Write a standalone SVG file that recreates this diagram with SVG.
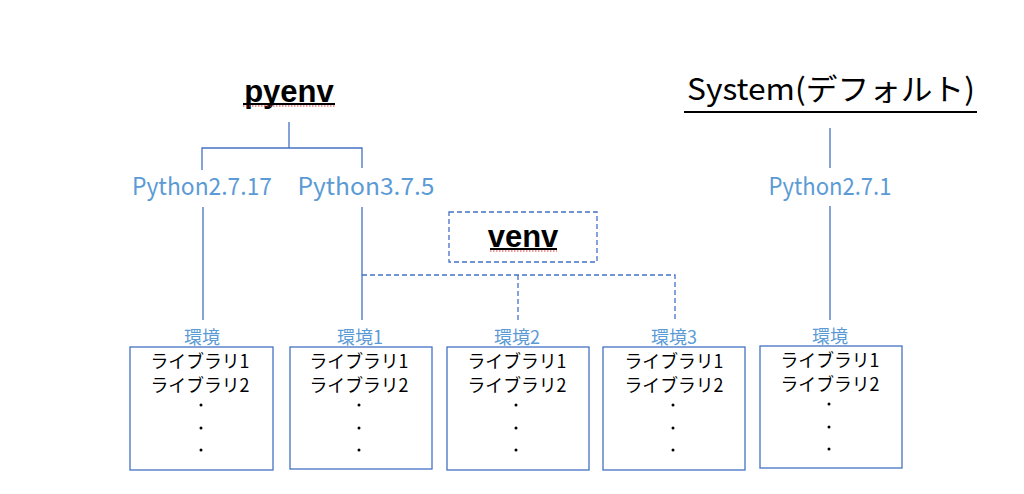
<svg xmlns="http://www.w3.org/2000/svg" width="1024" height="494" viewBox="0 0 1024 494">
<style>
.bg{fill:#ffffff}
.title{font-family:"Liberation Sans",Arial,sans-serif;font-weight:bold;font-size:31px;fill:#000;text-anchor:middle}
.sys{font-family:"Noto Sans CJK JP","Noto Sans",sans-serif;font-size:30px;fill:#000;text-anchor:middle}
.ver{font-family:"Noto Sans CJK JP","Noto Sans",sans-serif;font-size:24px;fill:#5b9bd5;text-anchor:middle}
.env{font-family:"Noto Sans CJK JP",sans-serif;font-size:18px;fill:#5b9bd5;text-anchor:middle}
.lib{font-family:"Noto Sans CJK JP",sans-serif;font-size:18px;fill:#000;text-anchor:middle}
.box{fill:#fff;stroke:#4472c4;stroke-width:1.3}
.ln{stroke:#4472c4;stroke-width:1.3;fill:none}
.dash{stroke:#4472c4;stroke-width:1.3;fill:none;stroke-dasharray:5 3}
.ul{stroke:#000;stroke-width:2}
.sq{stroke:#e03030;stroke-width:1;stroke-dasharray:1.5 1.5}
</style>
<rect class="bg" x="0" y="0" width="1024" height="494"/>

<g id="pyenv">
<text class="title" x="289" y="102">pyenv</text>
<line class="ul" x1="243" y1="104" x2="335" y2="104"/>
<line class="sq" x1="243" y1="106" x2="336" y2="106"/>
</g>

<g id="system">
<text class="sys" x="831" y="100" textLength="288" lengthAdjust="spacingAndGlyphs">System(デフォルト)</text>
<line class="ul" x1="684" y1="112" x2="977" y2="112"/>
</g>

<g id="venv">
<rect class="dash" x="449" y="212" width="148" height="50"/>
<text class="title" x="523" y="247">venv</text>
<line class="ul" x1="490" y1="249" x2="557" y2="249"/>
<line class="sq" x1="490" y1="251" x2="557" y2="251"/>
</g>

<g id="py2717"><text class="ver" x="202" y="195" textLength="140" lengthAdjust="spacingAndGlyphs">Python2.7.17</text></g>
<g id="py375"><text class="ver" x="366" y="195" textLength="137" lengthAdjust="spacingAndGlyphs">Python3.7.5</text></g>
<g id="py271"><text class="ver" x="830" y="195" textLength="123" lengthAdjust="spacingAndGlyphs">Python2.7.1</text></g>

<g id="connectors">
<line class="ln" x1="289" y1="122" x2="289" y2="148"/>
<polyline class="ln" points="202,170 202,148 362,148 362,168"/>
<line class="ln" x1="203" y1="207" x2="203" y2="320"/>
<line class="ln" x1="362" y1="207" x2="362" y2="320"/>
<line class="ln" x1="830" y1="128" x2="830" y2="168"/>
<line class="ln" x1="830" y1="206" x2="830" y2="320"/>
<polyline class="dash" points="362,275 675,275 675,320"/>
<line class="dash" x1="518" y1="275" x2="518" y2="320"/>
</g>

<g id="env-a">
<text class="env" x="202" y="344">環境</text>
<rect class="box" x="130" y="347" width="143" height="123"/>
<text class="lib" x="200" y="368" textLength="99" lengthAdjust="spacingAndGlyphs">ライブラリ1</text>
<text class="lib" x="200" y="392" textLength="99" lengthAdjust="spacingAndGlyphs">ライブラリ2</text>
<circle cx="201" cy="405" r="1.5"/><circle cx="201" cy="428" r="1.5"/><circle cx="201" cy="450" r="1.5"/>
</g>

<g id="env-1">
<text class="env" x="360" y="344">環境1</text>
<rect class="box" x="290" y="347" width="142" height="122"/>
<text class="lib" x="359" y="368" textLength="99" lengthAdjust="spacingAndGlyphs">ライブラリ1</text>
<text class="lib" x="359" y="392" textLength="99" lengthAdjust="spacingAndGlyphs">ライブラリ2</text>
<circle cx="359" cy="405" r="1.5"/><circle cx="359" cy="428" r="1.5"/><circle cx="359" cy="450" r="1.5"/>
</g>

<g id="env-2">
<text class="env" x="517" y="344">環境2</text>
<rect class="box" x="447" y="347" width="142" height="123"/>
<text class="lib" x="517" y="368" textLength="99" lengthAdjust="spacingAndGlyphs">ライブラリ1</text>
<text class="lib" x="517" y="392" textLength="99" lengthAdjust="spacingAndGlyphs">ライブラリ2</text>
<circle cx="516" cy="405" r="1.5"/><circle cx="516" cy="428" r="1.5"/><circle cx="516" cy="450" r="1.5"/>
</g>

<g id="env-3">
<text class="env" x="674" y="344">環境3</text>
<rect class="box" x="603" y="347" width="142" height="123"/>
<text class="lib" x="674" y="368" textLength="99" lengthAdjust="spacingAndGlyphs">ライブラリ1</text>
<text class="lib" x="674" y="392" textLength="99" lengthAdjust="spacingAndGlyphs">ライブラリ2</text>
<circle cx="673" cy="405" r="1.5"/><circle cx="673" cy="428" r="1.5"/><circle cx="673" cy="450" r="1.5"/>
</g>

<g id="env-sys">
<text class="env" x="830" y="343">環境</text>
<rect class="box" x="760" y="346" width="142" height="122"/>
<text class="lib" x="830" y="367" textLength="99" lengthAdjust="spacingAndGlyphs">ライブラリ1</text>
<text class="lib" x="830" y="391" textLength="99" lengthAdjust="spacingAndGlyphs">ライブラリ2</text>
<circle cx="829" cy="404" r="1.5"/><circle cx="829" cy="427" r="1.5"/><circle cx="829" cy="449" r="1.5"/>
</g>
</svg>
